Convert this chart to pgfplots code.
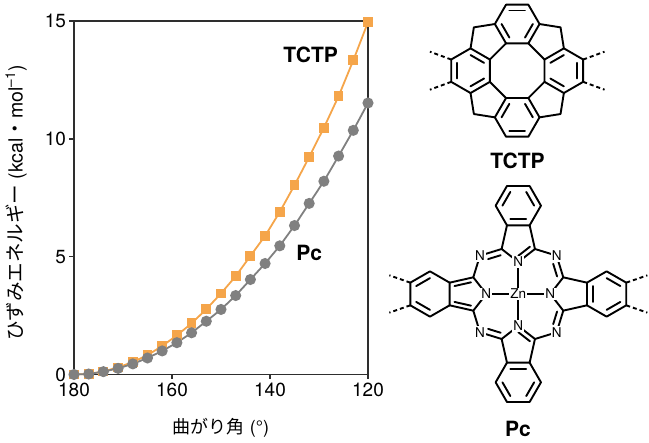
\documentclass[border=0pt]{standalone}
\usepackage{fontspec}
\setmainfont{TeX Gyre Heros}
\newfontfamily\jp{Noto Sans CJK JP}
\usepackage{pgfplots}
\pgfplotsset{compat=1.18}
\usetikzlibrary{calc}
\definecolor{tctp}{HTML}{F5A54A}
\definecolor{pcgray}{HTML}{808080}
\definecolor{axgray}{HTML}{2E2E2E}
\begin{document}
\begin{tikzpicture}
\useasboundingbox (0,0) rectangle (649pt,443pt);
\begin{axis}[
  at={(74pt,68.5pt)}, anchor=south west, scale only axis,
  width=294pt, height=353.5pt,
  xmin=120, xmax=180, x dir=reverse, ymin=0, ymax=15,
  xtick={120,140,160,180}, ytick={0,5,10,15},
  axis line style={line width=1.5pt, axgray},
  tick style={line width=1.5pt, axgray},
  tick align=outside, major tick length=4.5pt,
  xtick pos=bottom, ytick pos=left,
  ticklabel style={font=\fontsize{19}{22}\selectfont},
  xticklabel style={yshift=-1pt},
  /pgf/number format/assume math mode=true,
  xlabel={{\jp 曲がり角} (°)},
  xlabel style={at={(axis description cs:0.5,0)}, anchor=center, yshift=-53pt, font=\fontsize{18}{22}\selectfont},
  ylabel={{\jp ひずみエネルギー} (kcal{\jp ・}mol\textsuperscript{–1})},
  ylabel style={at={(axis description cs:-0.197,0.485)}, anchor=center, font=\fontsize{19.5}{22}\selectfont},
  clip=false,
]
\addplot[tctp, line width=1.8pt, mark=square*, mark size=4pt] coordinates {
(180,0) (177,0.02) (174,0.13) (171,0.30) (168,0.53) (165,0.82) (162,1.21)
(159,1.66) (156,2.17) (153,2.77) (150,3.44) (147,4.17) (144,5.03) (141,5.88)
(138,6.90) (135,8.03) (132,9.23) (129,10.47) (126,11.81) (123,13.33) (120,14.95)};
\addplot[pcgray, line width=1.8pt, mark=*, mark size=4.6pt] coordinates {
(180,0) (177,0.02) (174,0.12) (171,0.26) (168,0.45) (165,0.70) (162,1.00)
(159,1.35) (156,1.77) (153,2.26) (150,2.76) (147,3.35) (144,4.03) (141,4.71)
(138,5.46) (135,6.32) (132,7.26) (129,8.20) (126,9.27) (123,10.36) (120,11.52)};
\node[font=\bfseries\fontsize{21}{24}\selectfont] at (axis cs:131.7,13.56) {TCTP};
\node[font=\bfseries\fontsize{21}{24}\selectfont] at (axis cs:132,5.15) {Pc};
\end{axis}

% ---------- TCTP structure ----------
\begin{scope}[shift={(517.2pt,372.3pt)}, x=0.3333pt, y=0.3333pt, line width=1.9pt, line join=round, line cap=round]
  \foreach \r in {0,90,180,270}{
    \begin{scope}[rotate=\r]
      \draw (-33.5,82) -- (33.5,82) -- (82,33.5);
      \draw (33.5,82) -- (67,140) -- (33.5,198) -- (-33.5,198) -- (-67,140) -- (-33.5,82);
      \draw (67,140) -- (130,130) -- (140,67);
      \draw (-23.45,180.6) -- (23.45,180.6);
      \draw (23.45,99.4) -- (46.9,140);
      \draw (-23.45,99.4) -- (-46.9,140);
    \end{scope}
  }
  \draw[line cap=butt, dash pattern=on 4pt off 3pt] (-198,33.5) -- (-262,57);
  \draw[line cap=butt, dash pattern=on 4pt off 3pt] (-198,-33.5) -- (-262,-57);
  \draw[line cap=butt, dash pattern=on 4pt off 3pt] (198,33.5) -- (262,57);
  \draw[line cap=butt, dash pattern=on 4pt off 3pt] (198,-33.5) -- (262,-57);
\end{scope}
\node[font=\bfseries\fontsize{21}{24}\selectfont] at (517.5pt,282.5pt) {TCTP};

% ---------- Pc structure ----------
\begin{scope}[shift={(518.3pt,149pt)}, x=0.3333pt, y=0.3333pt, line width=1.9pt, line join=round, line cap=round]
  \foreach \r in {0,90,180,270}{
    \begin{scope}[rotate=\r]
      \draw (0,96) -- (-50,135) -- (-34,206) -- (34,206) -- (50,135) -- cycle;
      \draw (-34,206) -- (-68,265) -- (-34,324) -- (34,324) -- (68,265) -- (34,206);
      \draw (0,0) -- (0,96);
      \draw (-115,115) -- (-50,135);
      \draw (115,115) -- (50,135);
      \draw (47.6,265) -- (23.8,306.3);
      \draw (-47.6,265) -- (-23.8,306.3);
    \end{scope}
  }
  % beta=beta (top, bottom, right)
  \foreach \r in {0,180,270}{
    \begin{scope}[rotate=\r]
      \draw (-23.8,223.7) -- (23.8,223.7);
    \end{scope}
  }
  % left unit alpha=beta
  \begin{scope}[rotate=90]
    \draw (-35,141.9) -- (-23.8,191.6);
    \draw (35,141.9) -- (23.8,191.6);
  \end{scope}
  % inner N = alpha
  \draw (0,114.6) -- (35,141.9);
  \draw (0,-114.6) -- (35,-141.9);
  % meso N = alpha
  \draw (-90.5,104.7) -- (-52.8,116.3);
  \begin{scope}[rotate=270]
    \draw (-90.5,104.7) -- (-52.8,116.3);
    \draw (90.5,104.7) -- (52.8,116.3);
  \end{scope}
  \begin{scope}[rotate=180]
    \draw (90.5,104.7) -- (52.8,116.3);
  \end{scope}
  % dashes
  \draw[line cap=butt, dash pattern=on 4pt off 3pt] (-324,34) -- (-387,56);
  \draw[line cap=butt, dash pattern=on 4pt off 3pt] (-324,-34) -- (-387,-56);
  \draw[line cap=butt, dash pattern=on 4pt off 3pt] (324,34) -- (387,56);
  \draw[line cap=butt, dash pattern=on 4pt off 3pt] (324,-34) -- (387,-56);
  % atom labels
  \tikzset{atom/.style={fill=white, inner sep=1pt, font=\fontsize{13.5}{15}\selectfont}}
  \node[atom] at (0,0) {Zn};
  \node[atom] at (0,96) {N};
  \node[atom] at (0,-96) {N};
  \node[atom] at (96,0) {N};
  \node[atom] at (-96,0) {N};
  \node[atom] at (-115,115) {N};
  \node[atom] at (115,115) {N};
  \node[atom] at (115,-115) {N};
  \node[atom] at (-115,-115) {N};
\end{scope}
\node[font=\bfseries\fontsize{21}{24}\selectfont] at (518pt,14.5pt) {Pc};
\end{tikzpicture}
\end{document}
